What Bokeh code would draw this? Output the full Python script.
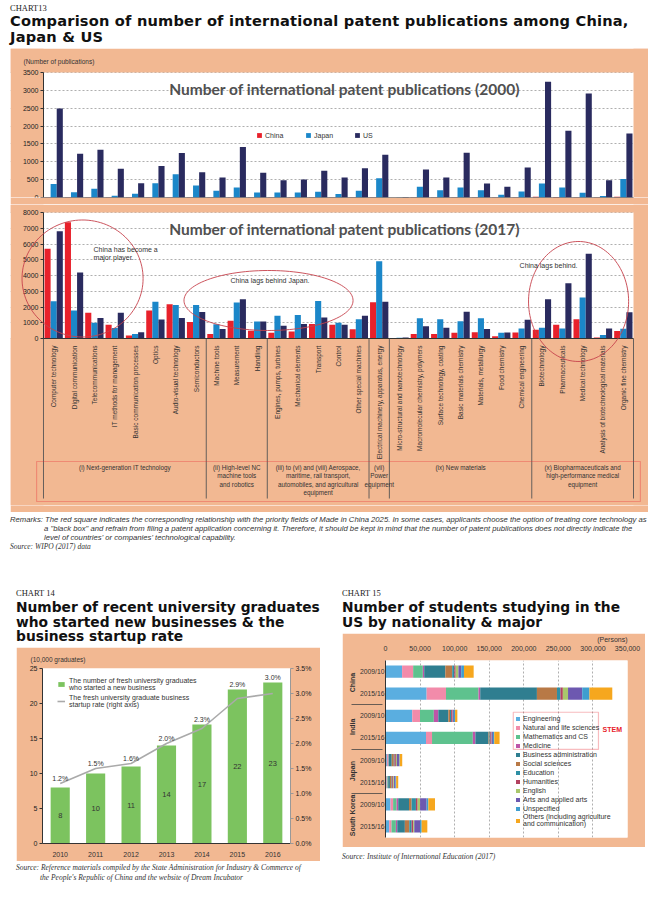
import numpy as np
from math import pi
from bokeh.plotting import figure
from bokeh.models import (ColumnDataSource, FactorRange, Range1d, LinearAxis, FixedTicker, Title,
                          BoxAnnotation, PolyAnnotation, Label, Legend, LegendItem, Div, Spacer,
                          NumeralTickFormatter, PrintfTickFormatter)
from bokeh.layouts import column, row
from bokeh.transform import dodge
from bokeh.core.properties import value
from bokeh.embed import file_html
from bokeh.resources import INLINE

# ---------------- data: chart 13 ----------------
categories = [
    "Computer technology", "Digital communication", "Telecommunications", "IT methods for management",
    "Basic communication processes", "Optics", "Audio-visual technology", "Semiconductors",
    "Machine tools", "Measurement", "Handling",
    "Engines, pumps, turbines", "Mechanical elements", "Transport", "Control", "Other special machines",
    "Electrical machinery, apparatus, energy",
    "Micro-structural and nanotechnology", "Macromolecular chemistry, polymers", "Surface technology, coating",
    "Basic materials chemistry", "Materials, metallurgy", "Food chemistry", "Chemical engineering",
    "Biotechnology", "Pharmaceuticals", "Medical technology", "Analysis of biotechnological materials",
    "Organic fine chemistry"]
china_2000 = [10, 5, 10, 5, 5, 10, 5, 5, 5, 10, 5, 5, 5, 5, 5, 10, 10, 0, 10, 5, 10, 10, 5, 10, 20, 15, 10, 5, 20]
japan_2000 = [375, 150, 243, 47, 103, 402, 654, 336, 187, 280, 140, 140, 140, 159, 95, 190, 540, 10, 300, 205,
              280, 205, 75, 170, 390, 280, 130, 45, 515]
us_2000 = [2495, 1225, 1336, 804, 402, 879, 1243, 710, 561, 1411, 692, 486, 505, 748, 560, 820, 1200, 15, 785, 560,
           1250, 390, 300, 840, 3240, 1870, 2915, 485, 1795]
china_2017 = [5700, 7380, 1640, 870, 190, 1770, 2170, 1040, 280, 1130, 490, 360, 450, 915, 870, 580, 2300, 30, 290,
              290, 360, 400, 150, 380, 550, 870, 1230, 60, 470]
japan_2017 = [2360, 1770, 1000, 660, 280, 2340, 2130, 2130, 910, 2280, 1085, 1450, 1490, 2380, 1000, 1230, 4900, 40,
              1290, 1230, 1100, 1280, 360, 640, 680, 640, 2600, 230, 620]
us_2017 = [6810, 4190, 1300, 1640, 400, 1210, 1300, 1680, 600, 2490, 1085, 810, 915, 1340, 870, 1450, 2340, 60, 770,
           690, 1700, 600, 380, 1190, 2490, 3510, 5380, 640, 1660]
series_names = ["China", "Japan", "US"]
ticks_2000 = [0, 500, 1000, 1500, 2000, 2500, 3000, 3500]
ticks_2017 = [0, 1000, 2000, 3000, 4000, 5000, 6000, 7000, 8000]
group_labels = ["(i) Next-generation IT technology",
                "(ii) High-level NC\nmachine tools\nand robotics",
                "(iii) to (vi) and (viii) Aerospace,\nmaritime, rail transport,\nautomobiles, and agricultural\nequipment",
                "(vii)\nPower\nequipment",
                "(ix) New materials",
                "(x) Biopharmaceuticals and\nhigh-performance medical\nequipment"]
group_sizes = [8, 3, 5, 1, 7, 5]

# ---------------- data: chart 14 ----------------
years = ["2010", "2011", "2012", "2013", "2014", "2015", "2016"]
graduates = [8, 10, 11, 14, 17, 22, 23]
startup_rate = [1.2, 1.5, 1.6, 2.0, 2.3, 2.9, 3.0]

# ---------------- data: chart 15 ----------------
row_keys = [("China", "2009/10"), ("China", "2015/16"), ("India", "2009/10"), ("India", "2015/16"),
            ("Japan", "2009/10"), ("Japan", "2015/16"), ("South Korea", "2009/10"), ("South Korea", "2015/16")]
majors = ["Engineering", "Natural and life sciences", "Mathematics and CS", "Medicine",
          "Business administration", "Social sciences", "Education", "Humanities", "English",
          "Arts and applied arts", "Unspecified", "Others (including agriculture\nand communication)"]
students = {  # thousands of persons, rows in row_keys order
    "Engineering":               [24.0, 59.5, 38.7, 58.6, 2.0, 1.5, 7.3, 5.3],
    "Natural and life sciences": [16.0, 28.0, 11.2, 8.7, 1.5, 1.0, 3.7, 3.4],
    "Mathematics and CS":        [14.0, 47.0, 20.0, 59.0, 1.0, 1.0, 5.0, 6.3],
    "Medicine":                  [2.0, 2.5, 6.5, 3.7, 0.5, 0.4, 2.4, 2.0],
    "Business administration":   [30.5, 82.0, 14.5, 19.0, 4.0, 2.5, 15.6, 11.0],
    "Social sciences":           [10.0, 29.0, 2.4, 1.5, 3.0, 2.5, 3.8, 6.4],
    "Education":                 [3.0, 5.0, 1.6, 1.0, 1.0, 0.8, 6.2, 3.4],
    "Humanities":                [2.0, 3.5, 2.0, 1.5, 2.0, 1.5, 2.5, 2.2],
    "English":                   [4.0, 7.5, 0.3, 0.4, 1.5, 1.2, 3.5, 1.6],
    "Arts and applied arts":     [4.0, 20.5, 1.7, 2.0, 3.0, 2.0, 9.5, 8.3],
    "Unspecified":               [4.0, 10.5, 1.7, 1.9, 1.0, 1.0, 2.5, 2.4],
    "Others (including agriculture\nand communication)": [14.0, 33.0, 3.3, 7.7, 3.7, 3.0, 9.6, 8.2],
}
major_colors = ["#5AAEE0", "#F28BAA", "#5EC28E", "#BE55A8", "#2F7E90", "#B87946", "#2E8FA4", "#B2415F",
                "#A9C76C", "#6D58B0", "#3E9ECF", "#F6A71E"]
ticks_15 = [0, 50000, 100000, 150000, 200000, 250000, 300000, 350000]

# ---------------- style ----------------
SANS = "Liberation Sans"
PANEL_FONT = "Lato"
PEACH = "#F2B892"
RED, BLUE, NAVY = "#E8212B", "#1B87C9", "#2A2B5F"
ROSE = "#C6424C"
TXT = "#333333"
NCAT = len(categories)
XLO, XHI = -1.622, NCAT + 0.737      # visible span around the categories (peach margins)


def base_fig(title=None, **kw):
    return figure(output_backend="svg", toolbar_location=None, title=title, border_fill_color=PEACH,
                  background_fill_color="white", outline_line_color=None, **kw)


def small_title(text, align, offset, standoff):
    return Title(text=text, align=align, offset=offset, standoff=standoff, text_font=SANS,
                 text_font_size="6.5px", text_font_style="normal", text_color=TXT)


def style_y(axis, ticks):
    axis.ticker = FixedTicker(ticks=ticks)
    axis.axis_line_color = TXT
    axis.major_tick_out = 3
    axis.major_tick_in = 0
    axis.major_tick_line_color = TXT
    axis.minor_tick_line_color = None
    axis.major_label_text_font = SANS
    axis.major_label_text_font_size = "7px"
    axis.major_label_text_color = "#222222"
    axis.major_label_standoff = 2


def style_grid(grid, ticks):
    grid.ticker = FixedTicker(ticks=ticks)
    grid.grid_line_color = "#8C8C8C"
    grid.grid_line_dash = "2 2"
    grid.grid_line_width = 0.7


def ellipse(cx, cy, w, h, n=120):
    t = np.linspace(0, 2 * pi, n)
    return list(cx + w / 2 * np.cos(t)), list(cy + h / 2 * np.sin(t))


def peach_margins(p, top_value, bottom_strip):
    # peach outside the white data area
    kw = dict(fill_color=PEACH, fill_alpha=1, line_color=None, level="underlay")
    p.add_layout(BoxAnnotation(right=0, **kw))
    p.add_layout(BoxAnnotation(left=NCAT, **kw))
    p.add_layout(BoxAnnotation(bottom=top_value, **kw))
    if bottom_strip:
        p.add_layout(BoxAnnotation(top=0, **kw))


xpos = [i + 0.5 for i in range(NCAT)]

# ================= Chart 13 : 2000 panel =================
pA = base_fig(x_range=Range1d(XLO, XHI), y_range=Range1d(0, 4172), width=638, height=156,
              min_border_left=0, min_border_right=0, min_border_top=0, min_border_bottom=7)
peach_margins(pA, 3500, False)
srcA = ColumnDataSource(dict(x=xpos, cat=categories, china=china_2000, japan=japan_2000, us=us_2000))
rA = []
for fld, off, col in [("china", -0.3, RED), ("japan", 0.0, BLUE), ("us", 0.3, NAVY)]:
    rA.append(pA.vbar(x=dodge("x", off), top=fld, width=0.3, source=srcA, fill_color=col, line_color=None))
pA.xaxis.visible = False
pA.xgrid.visible = False
style_y(pA.yaxis[0], ticks_2000)
pA.yaxis[0].fixed_location = 0
pA.yaxis[0].bounds = (0, 3500)
style_grid(pA.ygrid[0], ticks_2000)
pA.segment(x0=0, y0=0, x1=NCAT, y1=0, line_color=TXT, line_width=1)
pA.add_layout(Label(x=14.8, y=3025, text="Number of international patent publications (2000)",
                    text_align="center", text_baseline="middle", text_font=PANEL_FONT, text_font_size="15.5px",
                    text_font_style="bold", text_color="#505050"))
pA.add_layout(Label(x=-0.983, y=3808, text="(Number of publications)", text_align="left", text_baseline="middle",
                    text_font=SANS, text_font_size="6.5px", text_color=TXT))
legA = Legend(items=[LegendItem(label=n, renderers=[r]) for n, r in zip(series_names, rA)],
              orientation="horizontal", location=(246, 58), glyph_width=6, glyph_height=6, label_height=8,
              label_standoff=3, spacing=20, padding=0, margin=0, border_line_color=None,
              background_fill_alpha=0, label_text_font=SANS, label_text_font_size="7px", label_text_color=TXT)
pA.add_layout(legA)

# ================= Chart 13 : 2017 panel + labels =================
pB = base_fig(x_range=Range1d(XLO, XHI), y_range=Range1d(-10603, 8508), width=638, height=308,
              min_border_left=0, min_border_right=0, min_border_top=0, min_border_bottom=7)
peach_margins(pB, 8000, True)
srcB = ColumnDataSource(dict(x=xpos, cat=categories, china=china_2017, japan=japan_2017, us=us_2017))
for fld, off, col in [("china", -0.3, RED), ("japan", 0.0, BLUE), ("us", 0.3, NAVY)]:
    pB.vbar(x=dodge("x", off), top=fld, width=0.3, source=srcB, fill_color=col, line_color=None)
pB.xaxis.visible = False
pB.xgrid.visible = False
style_y(pB.yaxis[0], ticks_2017)
pB.yaxis[0].bounds = (0, 8000)
pB.yaxis[0].fixed_location = 0
style_grid(pB.ygrid[0], ticks_2017)
pB.segment(x0=0, y0=0, x1=NCAT, y1=0, line_color=TXT, line_width=1)
pB.text(x="x", y=-450, text="cat", source=srcB, angle=pi / 2, text_align="right", text_baseline="middle",
        text_font=value(SANS), text_font_size="6.5px", text_color=TXT)
bounds = list(np.cumsum([0] + group_sizes))
pB.segment(x0=bounds, y0=0, x1=bounds, y1=-10160, line_color="#555555", line_width=0.9)
centers = [(a + b) / 2 for a, b in zip(bounds[:-1], bounds[1:])]
pB.text(x=centers, y=-7950, text=group_labels, text_align="center", text_baseline="top",
        text_font=value(SANS), text_font_size="6.3px", text_color=TXT, text_line_height=1.2)
pB.add_layout(BoxAnnotation(left=-0.34, right=NCAT + 0.34, top=-7810, bottom=-10349, fill_alpha=0,
                            line_color=RED, line_width=1.2))
for cx, cy, w, h in [(1.92, 3810, 5.95, 7430), (11.06, 2413, 8.31, 3810), (26.3, 2350, 4.92, 7620)]:
    xs, ys = ellipse(cx, cy, w, h)
    pB.add_layout(PolyAnnotation(xs=xs, ys=ys, fill_color=None, fill_alpha=0, line_color=ROSE,
                                 line_width=1, line_alpha=0.9))
pB.add_layout(Label(x=14.8, y=6980, text="Number of international patent publications (2017)",
                    text_align="center", text_baseline="middle", text_font=PANEL_FONT, text_font_size="15.5px",
                    text_font_style="bold", text_color="#505050"))
for x, y, t in [(2.46, 5400, "China has become a\nmajor player."), (9.19, 3680, "China lags behind Japan."),
                (23.4, 4630, "China lags behind.")]:
    pB.add_layout(Label(x=x, y=y, text=t, text_align="left", text_baseline="middle", text_font=SANS,
                        text_font_size="7px", text_color=TXT))

# ================= Chart 14 =================
p14 = base_fig(title=small_title("(10,000 graduates)", "left", -12, 12),
               x_range=FactorRange(factors=years), y_range=Range1d(0, 25), width=304, height=214,
               min_border_left=26, min_border_right=30, min_border_top=20, min_border_bottom=18)
p14.extra_y_ranges = {"rate": Range1d(0, 3.5)}
label_base = [max(g, r * 25 / 3.5) for g, r in zip(graduates, startup_rate)]
src14 = ColumnDataSource(dict(year=years, grads=graduates, half=[g / 2 for g in graduates],
                              gtxt=[str(g) for g in graduates], rate=startup_rate, lbase=label_base,
                              rtxt=["%.1f%%" % r for r in startup_rate]))
bars14 = p14.vbar(x="year", top="grads", width=0.54, source=src14, fill_color="#7CC35F", line_color=None)
line14 = p14.line(x="year", y="rate", y_range_name="rate", source=src14, line_color="#AAAAAA", line_width=1.6)
p14.text(x="year", y="half", text="gtxt", source=src14, text_align="center", text_baseline="middle",
         text_font=value(SANS), text_font_size="7.5px", text_color=TXT)
p14.text(x="year", y="lbase", text="rtxt", source=src14, text_align="center", text_baseline="bottom",
         y_offset=-2, text_font=value(SANS), text_font_size="7px", text_color=TXT)
p14.xgrid.visible = False
p14.ygrid.visible = False
style_y(p14.yaxis[0], [0, 5, 10, 15, 20, 25])
rax = LinearAxis(y_range_name="rate")
style_y(rax, [0, 0.5, 1.0, 1.5, 2.0, 2.5, 3.0, 3.5])
rax.formatter = PrintfTickFormatter(format="%.1f%%")
rax.axis_line_color = "#999999"
rax.major_tick_line_color = "#999999"
p14.add_layout(rax, "right")
p14.xaxis.axis_line_color = TXT
p14.xaxis.major_tick_line_color = None
p14.xaxis.major_label_text_font = SANS
p14.xaxis.major_label_text_font_size = "7px"
p14.xaxis.major_label_text_color = TXT
p14.xaxis.major_label_standoff = 2
leg14 = Legend(items=[LegendItem(label="The number of fresh university graduates\nwho started a new business",
                                 renderers=[bars14]),
                      LegendItem(label="The fresh university graduate business\nstartup rate (right axis)",
                                 renderers=[line14])],
               location=(15, 135), glyph_width=8, glyph_height=6, label_height=8, label_standoff=4, spacing=3,
               padding=0, margin=0, border_line_color=None, background_fill_alpha=0, label_text_font=SANS,
               label_text_font_size="7px", label_text_color=TXT)
p14.add_layout(leg14)

# ================= Chart 15 =================
rows_bottom_up = list(reversed(row_keys))
p15 = base_fig(title=small_title("(Persons)", "right", 0, 0),
               x_range=Range1d(0, 350000),
               y_range=FactorRange(factors=rows_bottom_up, group_padding=0, factor_padding=0, subgroup_padding=0),
               width=303, height=214, min_border_left=43, min_border_right=18, min_border_top=23,
               min_border_bottom=10, x_axis_location="above")
p15.title.text_font_size = "7px"
data15 = {"row": row_keys}
for m in majors:
    data15[m] = [v * 1000 for v in students[m]]
src15 = ColumnDataSource(data15)
rs15 = p15.hbar_stack(majors, y="row", height=0.55, source=src15, fill_color=major_colors, line_color=None)
p15.ygrid.visible = False
style_grid(p15.xgrid[0], ticks_15)
xa = p15.xaxis[0]
xa.ticker = FixedTicker(ticks=ticks_15)
xa.formatter = NumeralTickFormatter(format="0,0")
xa.axis_line_color = None
xa.major_tick_line_color = None
xa.minor_tick_line_color = None
xa.major_label_text_font = SANS
xa.major_label_text_font_size = "7px"
xa.major_label_text_color = TXT
xa.major_label_standoff = 4
ya = p15.yaxis[0]
ya.axis_line_color = TXT
ya.major_tick_line_color = None
ya.major_tick_out = 0
ya.major_tick_in = 0
ya.major_label_standoff = 1
ya.major_label_text_font = SANS
ya.major_label_text_font_size = "6.8px"
ya.major_label_text_color = TXT
ya.group_text_font = SANS
ya.group_text_font_size = "7px"
ya.group_text_color = TXT
ya.separator_line_color = "#444444"
ya.separator_line_width = 0.8
leg15 = Legend(items=[LegendItem(label=m, renderers=[r]) for m, r in zip(majors, rs15)],
               location=(130, 10), glyph_width=5, glyph_height=5, label_height=9, label_standoff=3, spacing=0,
               padding=0, margin=0, border_line_color=None, background_fill_alpha=0, label_text_font=SANS,
               label_text_font_size="7px", label_text_color=TXT)
p15.add_layout(leg15)
p15.add_layout(BoxAnnotation(left=184800, right=308000, top=5.66, bottom=3.98, fill_alpha=0,
                             line_color=RED, line_width=1.2))
p15.add_layout(Label(x=314000, y=4.9, text="STEM", text_align="left", text_baseline="middle", text_font=SANS,
                     text_font_size="7px", text_font_style="bold", text_color=RED))

# ================= texts / layout =================
header13 = Div(text=(
    "<div style=\"font-family:'Liberation Serif';font-size:8.5px;line-height:10px;padding-top:3px;color:#222\">"
    "CHART13</div>"
    "<div style=\"font-family:'DejaVu Sans';font-weight:bold;font-size:14.6px;line-height:15.6px;color:#111;"
    "letter-spacing:0.2px;white-space:nowrap\">Comparison of number of international patent publications among "
    "China,<br>Japan &amp; US</div>"), width=638, height=48, margin=0)

rem_style = ("font-family:'Liberation Sans';font-style:italic;font-size:7.7px;line-height:9px;color:#333;"
             "white-space:nowrap")
remarks = Div(text=(
    "<div style=\"" + rem_style + ";padding-top:3px\">Remarks: The red square indicates the corresponding "
    "relationship with the priority fields of Made in China 2025. In some cases, applicants choose the option of "
    "treating core technology as</div>"
    "<div style=\"" + rem_style + ";padding-left:34px\">a &quot;black box&quot; and refrain from filing a patent "
    "application concerning it. Therefore, it should be kept in mind that the number of patent publications does "
    "not directly indicate the</div>"
    "<div style=\"" + rem_style + ";padding-left:34px\">level of countries' or companies' technological "
    "capability.</div>"
    "<div style=\"font-family:'Liberation Serif';font-style:italic;font-size:7.5px;line-height:10px;color:#333\">"
    "Source: WIPO (2017) data</div>"), width=638, height=44, margin=0)

title_css = ("font-family:'DejaVu Sans';font-weight:bold;font-size:13.8px;line-height:14.7px;color:#111;"
             "white-space:nowrap")
chart_css = "font-family:'Liberation Serif';font-size:8.5px;line-height:10px;color:#222"
div14 = Div(text=("<div style=\"" + chart_css + "\">CHART 14</div><div style=\"" + title_css +
                  ";padding-top:2px\">Number of recent university graduates<br>who started new businesses &amp; the"
                  "<br>business startup rate</div>"), width=304, height=59, margin=0)
div15 = Div(text=("<div style=\"" + chart_css + "\">CHART 15</div><div style=\"" + title_css +
                  ";padding-top:2px\">Number of students studying in the<br>US by nationality &amp; major</div>"),
            width=303, height=45, margin=0)
src_css = ("font-family:'Liberation Serif';font-style:italic;font-size:7.5px;line-height:10px;color:#333;"
           "white-space:nowrap")
srcdiv14 = Div(text=("<div style=\"" + src_css + ";padding-top:2px\">Source: Reference materials compiled by the "
                     "State Administration for Industry &amp; Commerce of</div><div style=\"" + src_css +
                     ";padding-left:24px\">the People's Republic of China and the website of Dream Incubator</div>"),
               width=304, height=22, margin=0)
srcdiv15 = Div(text=("<div style=\"" + src_css + ";padding-top:5px\">Source: Institute of International "
                     "Education (2017)</div>"), width=303, height=16, margin=0)

col14 = column(div14, p14, srcdiv14)
col15 = column(div15, p15, srcdiv15)
layout = column(
    row(Spacer(width=10, height=48), header13),
    row(Spacer(width=10, height=156), pA),
    row(Spacer(width=10, height=308), pB),
    row(Spacer(width=10, height=44), remarks),
    Spacer(width=10, height=32),
    row(Spacer(width=16, height=10), col14, Spacer(width=22, height=10), col15),
)

open("out.html", "w").write(file_html(layout, INLINE))
